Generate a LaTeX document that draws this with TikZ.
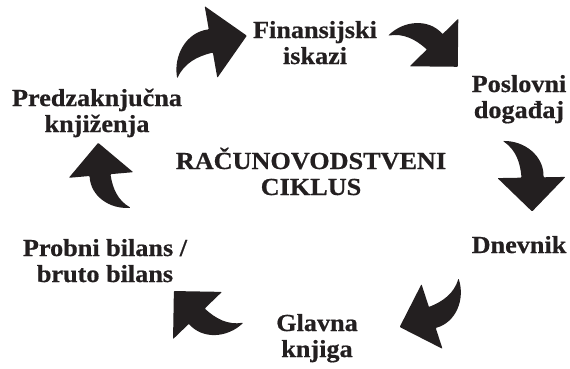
\documentclass[tikz,border=0pt]{standalone}
\usepackage{fontspec}
\setmainfont{Liberation Serif}[FakeStretch=1.07, BoldFeatures={FakeBold=0.6}]
\definecolor{ink}{HTML}{231F20}
\tikzset{
  lbl/.style={font=\fontsize{24.5}{26}\selectfont\bfseries, align=center,
              inner sep=0pt, anchor=base, text=ink},
  % curved "turn" arrow: head points along +x, tail sweeps back to the lower left
  pics/cyclearrow/.style={code={
    \fill[ink, rounded corners=0.8pt] (0,34) -- (34,0) -- (0,-34) -- (0,-10)
      .. controls (-15,-11) and (-28,-15) .. (-37,-28)
      .. controls (-37,-6) and (-21,13) .. (0,12) -- cycle;
  }},
}
\begin{document}
\begin{tikzpicture}[x=1pt,y=1pt]
  \useasboundingbox (0,0) rectangle (570,368);

  % stage labels (anchored at the baseline of their last line)
  \node[lbl] (fin)  at (315,304) {Finansijski\\iskazi};
  \node[lbl] (pos)  at (519,250) {Poslovni\\događaj};
  \node[lbl] (dne)  at (519,115) {Dnevnik};
  \node[lbl] (gla)  at (317,11)  {Glavna\\knjiga};
  \node[lbl] (pro)  at (105,86)  {Probni bilans /\\bruto bilans};
  \node[lbl] (pre)  at (97,236)  {Predzaknjučna\\knjiženja};
  \node[lbl] (title) at (311,173) {RAČUNOVODSTVENI\\CIKLUS};

  % arrows between the stages, clockwise
  \pic[rotate=10, scale=1.07] at (211,326) {cyclearrow};
  \pic[rotate=-45.6] at (434,325.5) {cyclearrow};
  \pic[rotate=-89] at (531.5,190.5) {cyclearrow};
  \pic[rotate=198] at (432,51.5) {cyclearrow};
  \pic[rotate=134] at (197.5,52.5) {cyclearrow};
  \pic[rotate=95, scale=0.95] at (101,193) {cyclearrow};
\end{tikzpicture}
\end{document}
